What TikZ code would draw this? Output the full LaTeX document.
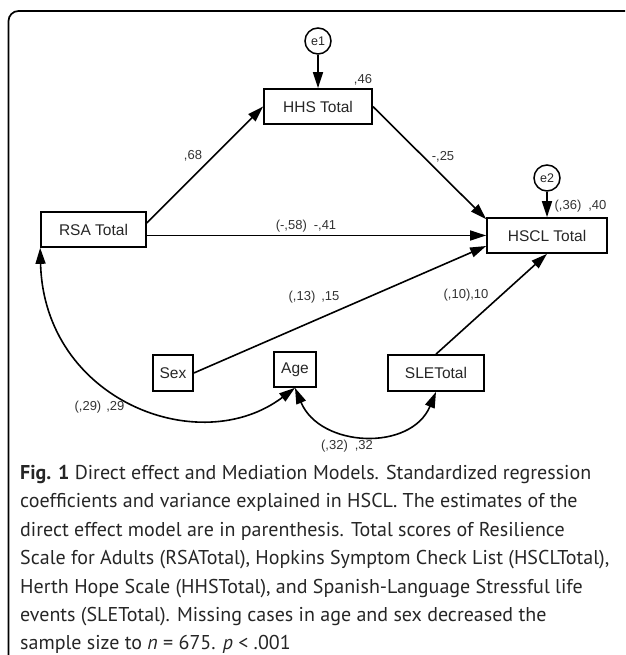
\documentclass[tikz,border=0pt]{standalone}
\usepackage{fontspec}
\setmainfont{Liberation Sans}
\newfontfamily\capfont{PT Sans}
\usetikzlibrary{arrows.meta}

\tikzset{
  obs/.style={draw, rectangle, line width=1.7pt, inner sep=0pt, minimum height=35pt,
    font=\fontsize{15.5}{17}\selectfont, text=black!85},
  err/.style={draw, circle, line width=1.5pt, inner sep=0pt, minimum size=26pt,
    font=\fontsize{12.5}{14}\selectfont, text=black!85},
  regr/.style={line width=1.6pt, -{Triangle[length=16pt,width=10pt]}},
  covar/.style={line width=1.6pt, {Triangle[length=16pt,width=10pt]}-{Triangle[length=16pt,width=10pt]}},
  coef/.style={inner sep=0pt, font=\fontsize{13}{15}\selectfont, text=black!80},
}

\begin{document}
\begin{tikzpicture}[x=10pt, y=10pt]
  \useasboundingbox (0,0) rectangle (62.5,65.5);

  % frame round the figure
  \draw[line width=1.7pt, rounded corners=10pt] (0.85,0) -- (0.85,64.4) -- (62.5,64.4);

  % observed variables
  \node[obs, minimum width=108pt] (hhs) at (31.8,54.85) {HHS Total};
  \node[obs, minimum width=105pt] (rsa) at (9.35,42.55) {RSA Total};
  \node[obs, minimum width=120pt] (hscl) at (54.7,41.95) {HSCL Total};
  \node[obs, minimum width=40pt, minimum height=36pt] (sex) at (17.3,28.2) {Sex};
  \node[obs, minimum width=42pt] (age) at (29.5,28.55) {Age};
  \node[obs, minimum width=96pt, minimum height=36pt] (sle) at (43.6,28.2) {SLETotal};

  % error terms
  \node[err] (e1) at (31.8,61.4) {e1};
  \node[err] (e2) at (54.7,47.7) {e2};

  % regressions
  \draw[regr] (e1) -- (hhs);
  \draw[regr] (e2) -- (hscl);
  \draw[regr] ([yshift=6.5pt]rsa.east) -- (hhs.west);
  \draw[regr] (hhs.east) -- ([yshift=-2pt]hscl.north west);
  \draw[regr] (rsa.east |- hscl.west) -- (hscl.west);
  \draw[regr] (sex.east) -- ([yshift=-10.5pt]hscl.west);
  \draw[regr] (sle.north) -- (hscl.south);

  % covariances
  \draw[covar] (rsa.south west) .. controls +(0.4,-15.3) and +(-9.5,-7.2) .. (age.south);
  \draw[covar] (age.south) .. controls +(2.5,-6) and +(-2.5,-6) .. (sle.south);

  % estimates
  \node[coef] (c46) at (36.3,57.5) {,46};
  \node[coef] (c68) at (19.3,49.9) {,68};
  \node[coef] (c25) at (44.3,49.8) {-,25};
  \node[coef] (c40) at (58.05,44.9) {(,36)\hspace{7pt},40};
  \node[coef] (c41) at (30.6,42.9) {(-,58)\hspace{7pt}-,41};
  \node[coef] (c15) at (31.4,35.8) {(,13)\hspace{6pt},15};
  \node[coef] (c10) at (46.6,36.0) {(,10),10};
  \node[coef] (c29) at (9.95,24.8) {(,29)\hspace{5pt},29};
  \node[coef] (c32) at (34.7,20.9) {(,32)\hspace{7pt},32};

  % caption
  \node[anchor=north west, align=left, inner sep=0pt, text=black!85,
    font=\capfont\fontsize{20}{28.4}\selectfont] (cap) at (2.0,19.0)
    {\textbf{Fig. 1} Direct effect and Mediation Models. Standardized regression\\
     coefficients and variance explained in HSCL. The estimates of the\\
     direct effect model are in parenthesis. Total scores of Resilience\\
     Scale for Adults (RSATotal), Hopkins Symptom Check List (HSCLTotal),\\
     Herth Hope Scale (HHSTotal), and Spanish-Language Stressful life\\
     events (SLETotal). Missing cases in age and sex decreased the\\
     sample size to \textit{n} = 675. \textit{p} < .001};
\end{tikzpicture}
\end{document}
